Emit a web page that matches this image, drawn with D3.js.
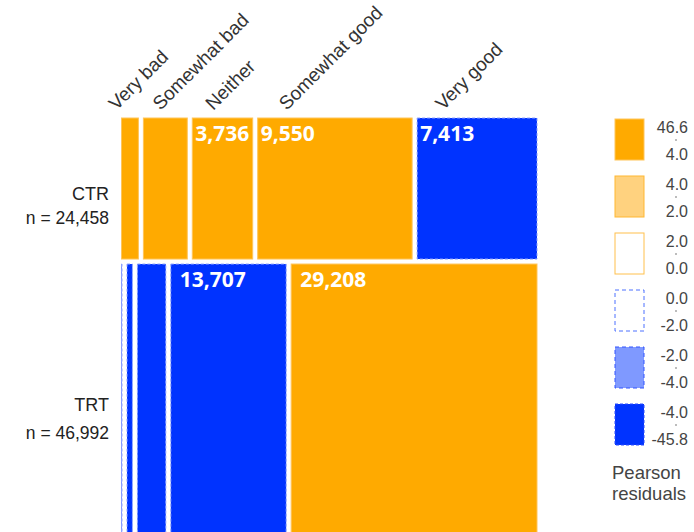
<!DOCTYPE html>
<html>
  <head>
    <meta charset="utf-8">
    <title>Mosaic plot</title>
    <script src="https://d3js.org/d3.v7.min.js"></script>
    <style>
      body { margin: 0; background: #fff; }
      text { font-family: "Liberation Sans", Arial, sans-serif; }
      .count { font-family: "Open Sans", sans-serif; font-weight: 700; fill: #fff; }
    </style>
  </head>
  <body>
    <div id="vis"></div>
    <script>
        const width = 694;
        const height = 532;

        // data
        const categories = ["Very bad", "Somewhat bad", "Neither", "Somewhat good", "Very good"];
        const groups = ["CTR", "TRT"];
        const groupN = [24458, 46992];
        const ctrCounts = [1045, 2714, 3736, 9550, 7413];
        const trtCounts = [60, 640, 3377, 13707, 29208];
        // residual shading level of each cell (3 = >4, 2 = 2..4, 1 = 0..2, negatives mirror)
        const ctrShade = [3, 3, 3, 3, -3];
        const trtShade = [-3, -3, -3, -3, 3];
        const legendBreaks = ["46.6", "4.0", "2.0", "0.0", "-2.0", "-4.0", "-45.8"];
        const legendShade = [3, 2, 1, -1, -2, -3];

        const rows = [
          {name: groups[0], n: groupN[0], counts: ctrCounts, shade: ctrShade, pad: 3},
          {name: groups[1], n: groupN[1], counts: trtCounts, shade: trtShade, pad: 9}
        ];

        const plotLeft = 121.5, plotRight = 537, plotTop = 118, gap = 5;
        const rowScale = d3.scaleLinear()
                           .domain([0, d3.sum(groupN)])
                           .range([plotTop, plotTop + 412]);

        const styles = {
          "3":  {fill: "#ffaa00", stroke: "#ffc55a", dash: null},
          "2":  {fill: "#ffd27f", stroke: "#ffb733", dash: null},
          "1":  {fill: "#ffffff", stroke: "#ffc04d", dash: null},
          "-1": {fill: "#ffffff", stroke: "#4d70ff", dash: "4,3"},
          "-2": {fill: "#7f99ff", stroke: "#3355ff", dash: "4,3"},
          "-3": {fill: "#0033ff", stroke: "#8ea3ff", dash: "3,2"}
        };

        let vis = d3.select("#vis")
                    .append("svg")
                    .attr("width", width)
                    .attr("height", height);

        // build the cells
        let cells = [];
        let cum = 0;
        rows.forEach(function(row, i) {
          const y0 = rowScale(cum) + i * gap;
          const y1 = rowScale(cum + row.n) + i * gap;
          row.y0 = y0; row.y1 = y1;
          const barSpace = (plotRight - plotLeft) - (row.counts.length - 1) * gap;
          const x = d3.scaleLinear().domain([0, row.n]).range([0, barSpace]);
          let c = 0;
          row.counts.forEach(function(v, j) {
            cells.push({
              row: i, cat: categories[j], value: v, shade: row.shade[j], pad: row.pad,
              x: plotLeft + x(c) + j * gap, w: x(v), y: y0, h: y1 - y0
            });
            c += v;
          });
          cum += row.n;
        });

        vis.append("g")
           .selectAll("rect")
           .data(cells)
           .enter()
           .append("rect")
           .attr("x", d => d.x)
           .attr("y", d => d.y)
           .attr("width", d => Math.max(d.w, 0.5))
           .attr("height", d => d.h)
           .attr("fill", d => styles[d.shade].fill)
           .attr("stroke", d => styles[d.shade].stroke)
           .attr("stroke-width", 1)
           .attr("stroke-dasharray", d => styles[d.shade].dash);

        vis.append("g")
           .selectAll("text")
           .data(cells.filter(d => d.w > 50))
           .enter()
           .append("text")
           .attr("class", "count")
           .attr("x", d => d.x + d.pad)
           .attr("y", d => d.y + 23)
           .attr("font-size", 21)
           .text(d => d3.format(",")(d.value));

        // column labels (placed over the first row)
        const labelShift = [-5, 17, 21, 29, 26];
        vis.append("g")
           .selectAll("text")
           .data(cells.filter(d => d.row === 0))
           .enter()
           .append("text")
           .attr("transform", (d, j) => "translate(" + (d.x + labelShift[j]) + ",111) rotate(-45)")
           .attr("font-size", 19)
           .attr("fill", "#333")
           .text(d => d.cat);

        // row labels
        const rowLabels = vis.append("g")
                             .selectAll("g")
                             .data(rows)
                             .enter()
                             .append("g")
                             .attr("text-anchor", "end")
                             .attr("font-size", 17.5)
                             .attr("fill", "#222");
        rowLabels.append("text")
                 .attr("x", 109)
                 .attr("y", d => (d.y0 + d.y1) / 2 + 11)
                 .attr("font-size", 18)
                 .text(d => d.name);
        rowLabels.append("text")
                 .attr("x", 109)
                 .attr("y", (d, i) => (d.y0 + d.y1) / 2 + (i === 0 ? 35 : 39))
                 .text(d => "n = " + d3.format(",")(d.n));

        // legend
        const legendY = d3.scaleLinear().domain([0, 1]).range([119, 176]);
        const legend = vis.append("g")
                          .selectAll("g")
                          .data(legendShade)
                          .enter()
                          .append("g")
                          .attr("transform", (d, i) => "translate(615," + legendY(i) + ")");
        legend.append("rect")
              .attr("width", 29)
              .attr("height", 41)
              .attr("fill", d => styles[d].fill)
              .attr("stroke", d => d === -3 ? "#2a4dff" : styles[d].stroke)
              .attr("stroke-dasharray", d => styles[d].dash);
        legend.append("text")
              .attr("x", 73)
              .attr("y", 14)
              .attr("text-anchor", "end")
              .attr("font-size", 16)
              .attr("fill", "#444")
              .text((d, i) => legendBreaks[i]);
        legend.append("text")
              .attr("x", 73)
              .attr("y", 41)
              .attr("text-anchor", "end")
              .attr("font-size", 16)
              .attr("fill", "#444")
              .text((d, i) => legendBreaks[i + 1]);
        legend.append("circle")
              .attr("cx", 61)
              .attr("cy", 21)
              .attr("r", 0.8)
              .attr("fill", "#666");

        vis.append("text")
           .attr("x", 612)
           .attr("y", 479)
           .attr("font-size", 18.5)
           .attr("fill", "#444")
           .text("Pearson");
        vis.append("text")
           .attr("x", 612)
           .attr("y", 500)
           .attr("font-size", 18.5)
           .attr("fill", "#444")
           .text("residuals");
    </script>
  </body>
</html>
